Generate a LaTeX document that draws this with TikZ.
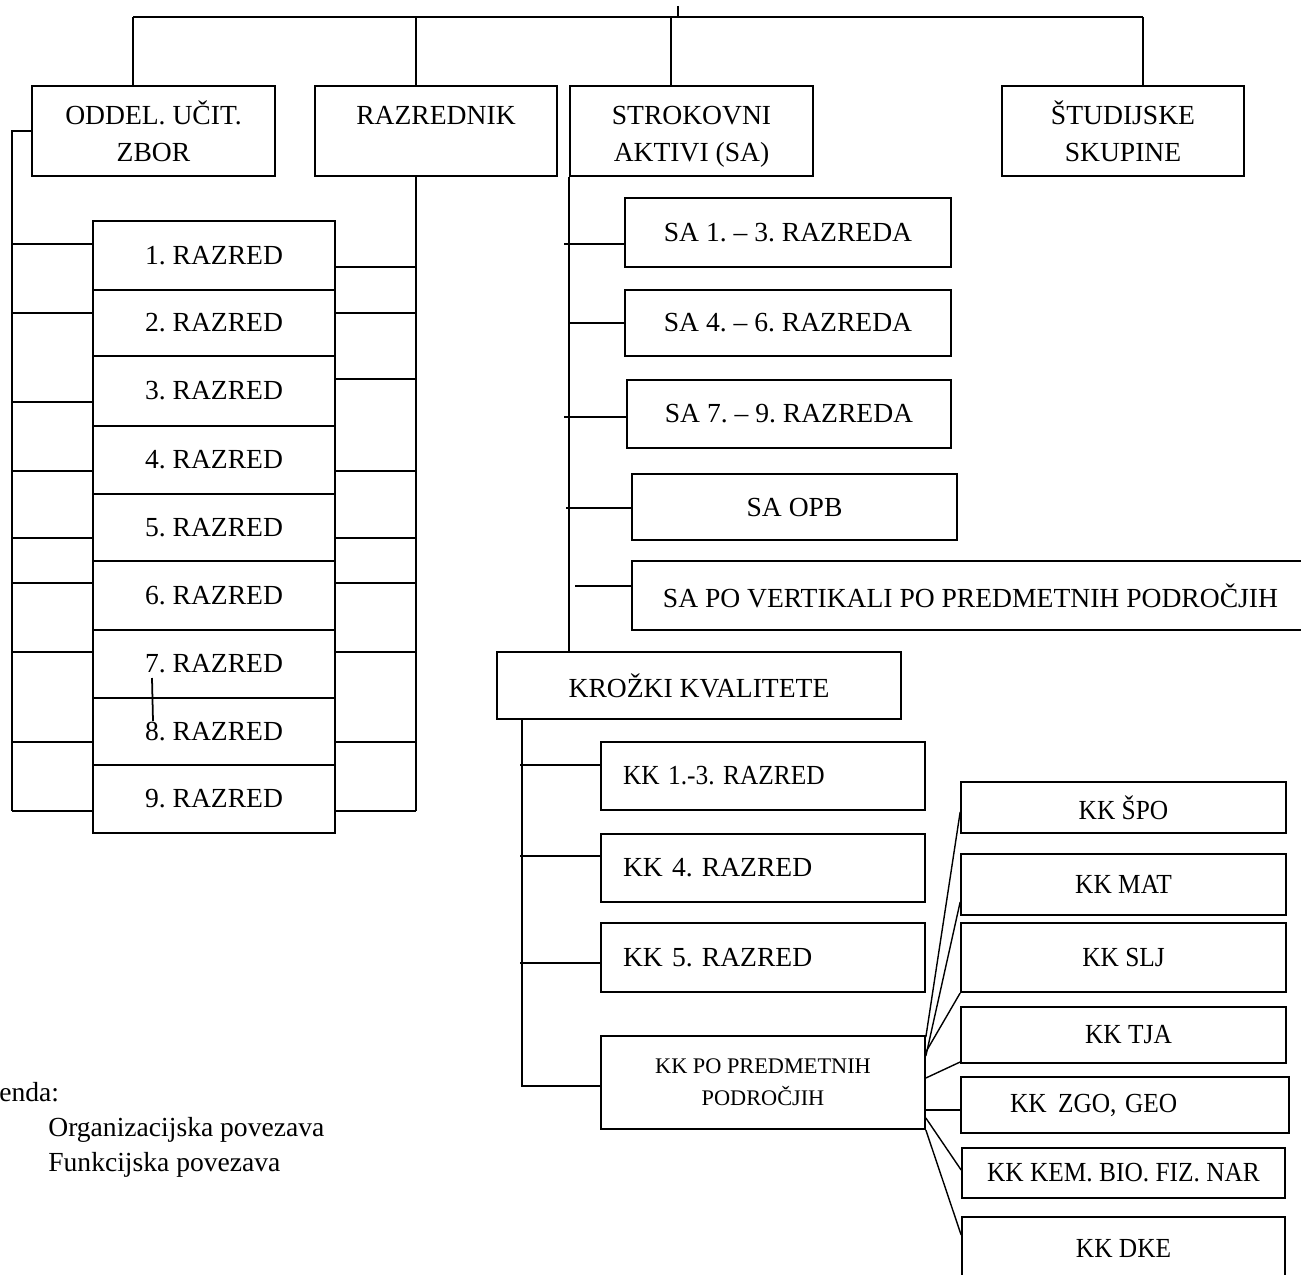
\documentclass[tikz,border=0pt]{standalone}
\usepackage{fontspec}
\setmainfont{Liberation Serif}
\usepackage{tikz}
\newcommand\boxfont{\fontsize{15.7}{21}\selectfont}
\newcommand\smallboxfont{\fontsize{12.7}{18}\selectfont}
\newcommand\kktext[1]{\scalebox{0.92}[1]{#1}}
\tikzset{
	box/.style={draw, line width=1pt, inner sep=0pt, font=\boxfont, align=center},
	kkbox/.style={box, align=left, inner xsep=0.44cm, text width=5.6cm},
	link/.style={line width=1pt},
	flink/.style={line width=0.8pt},
}
\frenchspacing
\begin{document}
\begin{tikzpicture}[x=0.02cm, y=-0.02cm]
			%%%%% START %%%%%
			\useasboundingbox (0,0) rectangle (1301,1274);
			\clip (0,0) rectangle (1301,1274);
			
			% top row
			\node[box, minimum width=4.86cm, minimum height=1.8cm] (oddel) at (153.5,131) {ODDEL. UČIT.\\\smash{ZBOR}};
			\node[box, minimum width=4.84cm, minimum height=1.8cm] (razrednik) at (436,131) {\vphantom{Č}RAZREDNIK\\\mbox{}};
			\node[box, minimum width=4.86cm, minimum height=1.8cm] (strokovni) at (691.5,131) {\vphantom{Č}STROKOVNI\\\smash{AKTIVI (SA)}};
			\node[box, minimum width=4.84cm, minimum height=1.8cm] (studijske) at (1123,131) {ŠTUDIJSKE\\\smash{SKUPINE}};
			
			\coordinate (root) at (678,6);
			\coordinate (tl) at (133,17);
			\coordinate (tr) at (1143,17);
			\draw[link] (tl) -- (tr);
			\draw[link] (root) -- (root |- tl);
			\foreach \n/\x in {oddel/133, razrednik/416, strokovni/671, studijske/1143}
				\draw[link] (\x,17) -- (\n.north -| \x,0);
			
			% razredi
			\coordinate (lbus) at (12,811);
			\coordinate (rbus) at (416,811);
			\draw[link] (oddel.west) -| (lbus);
			\draw[link] (razrednik.south -| rbus) -- (rbus);
			\foreach \i/\yc/\h/\yl/\yr in {1/255.5/1.38/244/267, 2/323/1.32/313/313, 3/391/1.40/402/379,
				4/460/1.36/471/471, 5/527.5/1.34/538/538, 6/595.5/1.38/583/583,
				7/664/1.36/652/652, 8/731.5/1.34/742/742, 9/799/1.36/811/811}{
				\node[box, minimum width=4.84cm, minimum height=\h cm] (r\i) at (214,\yc) {\i. RAZRED};
				\draw[link] (lbus |- 0,\yl) -- (r\i.west |- 0,\yl);
				\draw[link] (r\i.east |- 0,\yr) -- (rbus |- 0,\yr);
			}
			\draw[link] (152,678) -- (153,721);
			
			% strokovni aktivi
			\node[box, minimum width=6.52cm, minimum height=1.38cm] (sa1) at (788,232.5) {SA 1. – 3. RAZREDA};
			\node[box, minimum width=6.52cm, minimum height=1.32cm] (sa2) at (788,323) {SA 4. – 6. RAZREDA};
			\node[box, minimum width=6.48cm, minimum height=1.36cm] (sa3) at (789,414) {SA 7. – 9. RAZREDA};
			\node[box, minimum width=6.5cm, minimum height=1.32cm] (saopb) at (794.5,507) {SA OPB};
			\node[box, minimum width=13.54cm, minimum height=1.38cm] (savert) at (970.5,595.5) {SA PO VERTIKALI PO PREDMETNIH PODROČJIH};
			
			\node[box, minimum width=8.08cm, minimum height=1.34cm] (krozki) at (699,685.5) {KROŽKI KVALITETE};
			\draw[link] (strokovni.south west) -- (strokovni.south west |- krozki.north);
			\foreach \n/\y/\xa in {sa1/244/564, sa2/323/570, sa3/417/564, saopb/508/566, savert/586/575}
				\draw[link] (\xa,\y) -- (\n.west |- 0,\y);
			
			% krozki kvalitete
			\node[kkbox, minimum height=1.36cm] (kk1) at (763,776) {\kktext{KK 1.-3. RAZRED}};
			\node[kkbox, minimum height=1.36cm] (kk4) at (763,868) {KK 4. RAZRED};
			\node[kkbox, minimum height=1.38cm] (kk5) at (763,957.5) {KK 5. RAZRED};
			\node[box, font=\smallboxfont, minimum width=6.48cm, minimum height=1.86cm] (kkpo) at (763,1082.5) {KK PO PREDMETNIH\\PODROČJIH};
			
			\coordinate (kbus) at (522,1086);
			\draw[link] (krozki.south -| kbus) -- (kbus) -- (kkpo.west |- kbus);
			\foreach \n/\y in {kk1/765, kk4/856, kk5/963}
				\draw[link] (520,\y) -- (\n.west |- 0,\y);
			
			% predmetna podrocja
			\node[box, minimum width=6.5cm, minimum height=1.02cm] (kkspo) at (1123.5,807.5) {\kktext{KK ŠPO}};
			\node[box, minimum width=6.5cm, minimum height=1.22cm] (kkmat) at (1123.5,884.5) {\kktext{KK MAT}};
			\node[box, minimum width=6.5cm, minimum height=1.38cm] (kkslj) at (1123.5,957.5) {\kktext{KK SLJ}};
			\node[box, minimum width=6.5cm, minimum height=1.12cm] (kktja) at (1123.5,1035) {\hspace*{0.2cm}\kktext{KK TJA}};
			\node[box, align=left, inner xsep=0.98cm, text width=4.6cm, minimum height=1.12cm] (kkzgo) at (1125,1105) {\kktext{KK\hspace{0.45em}ZGO, GEO}};
			\node[box, minimum width=6.46cm, minimum height=1.0cm] (kkkem) at (1123.5,1173) {\kktext{KK KEM. BIO. FIZ. NAR}};
			\node[box, minimum width=6.46cm, minimum height=1.26cm] (kkdke) at (1123.5,1248.5) {\kktext{KK DKE}};
			
			\foreach \n/\ya/\yb in {kkspo/1037/812, kkmat/1056/902, kkslj/1052/993, kktja/1078/1062,
				kkzgo/1110/1110, kkkem/1118/1170, kkdke/1130/1235}
				\draw[flink] (kkpo.east |- 0,\ya) -- (\n.west |- 0,\yb);
			
			% legenda
			\node[font=\boxfont, anchor=west, inner sep=0pt] (legenda) at (-1,1092) {enda:};
			\node[font=\boxfont, anchor=west, inner sep=0pt] (org) at (48,1130) {Organizacijska povezava};
			\node[font=\boxfont, anchor=west, inner sep=0pt] (funk) at (48,1165) {Funkcijska povezava};
			
			%%%%% END %%%%%
\end{tikzpicture}
\end{document}
